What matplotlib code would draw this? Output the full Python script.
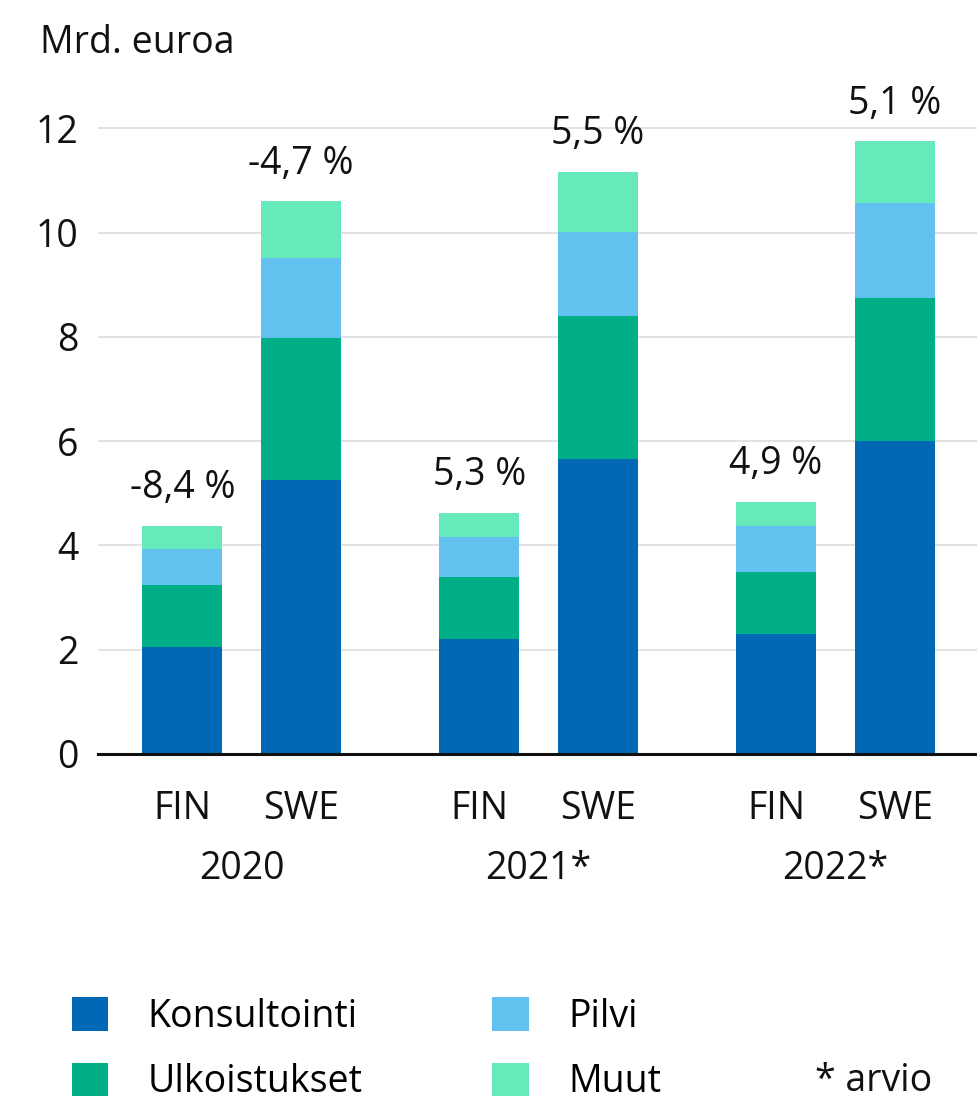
import matplotlib
matplotlib.use("Agg")
import matplotlib.pyplot as plt
import matplotlib.transforms as mtransforms
from matplotlib.patches import Patch
import numpy as np

plt.rcParams['font.family'] = ['Open Sans', 'DejaVu Sans']

# ---- data ----
years = ["2020", "2021*", "2022*"]
countries = ["FIN", "SWE"]
series_names = ["Konsultointi", "Ulkoistukset", "Pilvi", "Muut"]
# order: FIN2020, SWE2020, FIN2021, SWE2021, FIN2022, SWE2022
konsultointi = [2.05, 5.25, 2.20, 5.65, 2.30, 6.00]
ulkoistukset = [1.19, 2.72, 1.19, 2.75, 1.19, 2.74]
pilvi = [0.69, 1.54, 0.77, 1.62, 0.88, 1.82]
muut = [0.44, 1.09, 0.46, 1.15, 0.46, 1.19]
growth_labels = ["-8,4 %", "-4,7 %", "5,3 %", "5,5 %", "4,9 %", "5,1 %"]
colors = ["#0068B4", "#00AF86", "#62C1EE", "#66EABA"]

FS = 27
fig = plt.figure(figsize=(9.78, 11.01), dpi=100)
ax = fig.add_axes([98/978, (1101-754)/1101, 1-98/978, (754-97)/1101])

pos = []
for g in range(len(years)):
    for c in range(len(countries)):
        pos.append(g*2.5 + c)
pos = np.array(pos)
width = 0.675

stack = [konsultointi, ulkoistukset, pilvi, muut]
bottom = np.zeros(len(pos))
for vals, col, name in zip(stack, colors, series_names):
    ax.bar(pos, vals, width, bottom=bottom, color=col, label=name, zorder=3)
    bottom = bottom + np.array(vals)

for x, tot, lab in zip(pos, bottom, growth_labels):
    ax.annotate(lab, (x, tot), xytext=(0, 20), textcoords="offset points",
                ha="center", va="baseline", fontsize=FS, color="#111111")

ax.set_xlim(-0.71, 6.70)
ax.set_ylim(0, 12.6)
ax.set_yticks([0, 2, 4, 6, 8, 10, 12])
ax.grid(axis="y", color="#DDDDDD", linewidth=1.2, zorder=0)
for s in ["top", "right", "left"]:
    ax.spines[s].set_visible(False)
ax.spines["bottom"].set_linewidth(2.2)
ax.spines["bottom"].set_color("#111111")
ax.spines["bottom"].set_zorder(4)
ax.tick_params(axis="y", length=0, pad=14, labelsize=FS, labelcolor="#111111")
ax.tick_params(axis="x", length=0, pad=26, labelsize=FS, labelcolor="#111111")
ax.set_xticks(pos)
ax.set_xticklabels(countries * len(years))

trans = mtransforms.blended_transform_factory(ax.transData, ax.transAxes)
for g, yr in enumerate(years):
    xc = g*2.5 + 0.5
    ax.text(xc, -0.19, yr, transform=trans, ha="center", va="baseline",
            fontsize=FS, color="#111111")

fig.text(40/978, 1 - 53/1101, "Mrd. euroa", fontsize=FS, ha="left",
         va="baseline", color="#111111")

handles = [Patch(facecolor=c, edgecolor="none") for c in colors]
fig.legend([handles[0], handles[1], handles[2], handles[3]],
           [series_names[0], series_names[1], series_names[2], series_names[3]],
           ncol=2, loc="upper left", bbox_to_anchor=(72/978, 1 - 997/1101),
           frameon=False, fontsize=FS, handlelength=0.97, handleheight=1.0,
           handletextpad=1.05, columnspacing=3.45, labelspacing=0.72, borderpad=0,
           borderaxespad=0)

fig.text(815/978, 1 - 1091/1101, "* arvio", fontsize=FS, ha="left",
         va="baseline", color="#111111")

fig.savefig("out.png", dpi=100)
